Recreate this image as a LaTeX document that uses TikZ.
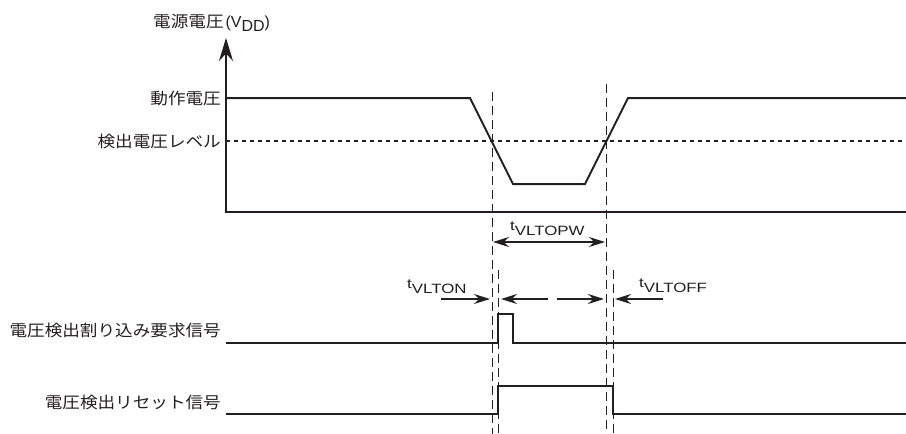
\documentclass[tikz,border=0pt]{standalone}
\usepackage{fontspec}
\setmainfont{Liberation Sans}
\newfontfamily\jp[FakeStretch=1.1]{Noto Sans CJK JP}
\newfontfamily\lat[FakeStretch=1.25]{Liberation Sans}
\usetikzlibrary{arrows.meta}
\definecolor{ink}{RGB}{35,31,32}
\begin{document}
\begin{tikzpicture}[x=1pt,y=-1pt,
  wave/.style={draw=ink,line width=2pt,line join=miter},
  guide/.style={draw=ink,line width=1pt,dash pattern=on 9pt off 5pt},
  levelline/.style={draw=ink,line width=2pt,dash pattern=on 4pt off 4pt},
  dimarrow/.style={draw=ink,line width=1.7pt,-{Stealth[length=16pt,width=10pt]}},
  dimboth/.style={draw=ink,line width=1.7pt,{Stealth[length=16pt,width=10pt]}-{Stealth[length=16pt,width=10pt]}},
  jplabel/.style={font=\jp\fontsize{16}{16}\selectfont,text=ink,inner sep=0pt,anchor=east},
  tlabel/.style={font=\lat\fontsize{13.5}{14}\selectfont,text=ink,inner sep=0pt,anchor=base west}]
\useasboundingbox (0,0) rectangle (906,434);

% axis
\coordinate (axtop) at (226,38);
\coordinate (axcorner) at (226,212);
\coordinate (axright) at (906,212);
\draw[draw=ink,line width=2pt,line join=miter,-{Stealth[length=23pt,width=14pt]}] (axright) -- (axcorner) -- (axtop);
\node[font=\fontsize{16}{16}\selectfont,text=ink,inner sep=0pt,anchor=west] (title) at (153,23)
  {{\jp 電源電圧}\hspace{2pt}(V\raisebox{-4pt}{DD})};

% labels
\node[jplabel] (op) at (221,98) {動作電圧};
\node[jplabel] (det) at (221,141) {検出電圧レベル};
\node[jplabel] (irq) at (221,330) {電圧検出割り込み要求信号};
\node[jplabel] (rst) at (221,402) {電圧検出リセット信号};

% VDD waveform
\draw[wave] (226,98) -- (470,98) -- (513,184) -- (585,184) -- (628,98) -- (906,98);
\draw[levelline] (226,141) -- (906,141);

% guide lines
\coordinate (g1t) at (492,92);  \coordinate (g1b) at (492,434);
\coordinate (g2t) at (606,84);  \coordinate (g2b) at (606,434);
\coordinate (g3t) at (498,270); \coordinate (g3b) at (498,434);
\coordinate (g4t) at (613,270); \coordinate (g4b) at (613,434);
\draw[guide] (g1t) -- (g1b);
\draw[guide] (g2t) -- (g2b);
\draw[guide] (g3t) -- (g3b);
\draw[guide] (g4t) -- (g4b);

% tVLTOPW
\coordinate (pwl) at (493,242);
\coordinate (pwr) at (605,242);
\draw[dimboth] (pwl) -- (pwr);
\node[tlabel] (pwlab) at (510,235) {\raisebox{5pt}{t}VLTOPW};

% second row
\coordinate (onT) at (441,299);  \coordinate (onH) at (490,299);
\coordinate (m1T) at (548,299);  \coordinate (m1H) at (501,299);
\coordinate (m2T) at (557,299);  \coordinate (m2H) at (604,299);
\coordinate (offT) at (663,299); \coordinate (offH) at (615,299);
\draw[dimarrow] (onT) -- (onH);
\draw[dimarrow] (m1T) -- (m1H);
\draw[dimarrow] (m2T) -- (m2H);
\draw[dimarrow] (offT) -- (offH);
\node[tlabel] (onlab) at (407,293) {\raisebox{5pt}{t}VLTON};
\node[tlabel] (offlab) at (639,292) {\raisebox{5pt}{t}VLTOFF};

% interrupt signal
\draw[wave] (226,343) -- (498,343) -- (498,314) -- (513,314) -- (513,343) -- (906,343);
% reset signal
\draw[wave] (226,414) -- (498,414) -- (498,386) -- (613,386) -- (613,414) -- (906,414);
\end{tikzpicture}
\end{document}
